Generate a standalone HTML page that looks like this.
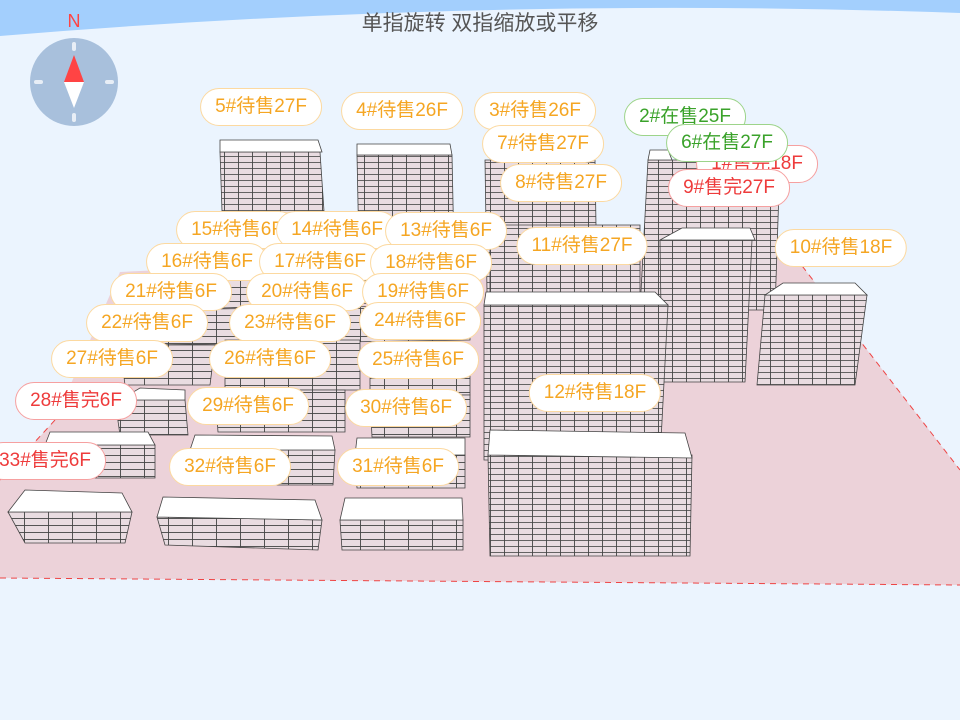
<!DOCTYPE html>
<html><head><meta charset="utf-8"><style>
html,body{margin:0;padding:0;}
body{width:960px;height:720px;position:relative;overflow:hidden;background:#ebf4fe;font-family:"Liberation Sans","Noto Sans CJK SC",sans-serif;}
.l{position:absolute;height:36px;line-height:36px;padding:0 14px;background:#fff;border:1px solid #fcd9a0;border-radius:19px;color:#f5a623;font-size:19px;white-space:nowrap;transform:translate(-50%,-50%);}
.g{border-color:#9dd48a;color:#3aa22a;}
.r{border-color:#f6a0a0;color:#ee3b3b;}
#t{position:absolute;left:0;width:960px;top:7px;text-align:center;font-size:21px;color:#555;}
</style></head><body>
<svg width="960" height="720" style="position:absolute;left:0;top:0">
<defs>
<pattern id="p" patternUnits="userSpaceOnUse" width="14" height="6">
<rect width="14" height="6" fill="#e9dce1"/>
<line x1="0" y1="0.5" x2="14" y2="0.5" stroke="#555" stroke-width="0.9"/>
<line x1="0.5" y1="0" x2="0.5" y2="6" stroke="#444" stroke-width="0.9"/>
</pattern>
<pattern id="q" patternUnits="userSpaceOnUse" width="24" height="7">
<rect width="24" height="7" fill="#e9dce1"/>
<line x1="0" y1="0.5" x2="24" y2="0.5" stroke="#555" stroke-width="0.9"/>
<line x1="0.5" y1="0" x2="0.5" y2="7" stroke="#444" stroke-width="0.9"/>
</pattern>
</defs>
<path d="M0,0 H960 V13 Q480,-4 0,36 Z" fill="#a3cffd"/>
<polygon points="120,272 782,240 960,470 960,585 0,578 0,480 55,420" fill="#ecd2d9"/>
<polyline points="782,240 960,470" fill="none" stroke="#e44" stroke-dasharray="6,5"/>
<polyline points="0,578 960,585" fill="none" stroke="#e44" stroke-dasharray="6,5"/>
<polyline points="55,420 0,480" fill="none" stroke="#e44" stroke-dasharray="6,5"/>
<g stroke="#444" stroke-width="0.8">
<polygon points="220,152 320,152 330,300 225,300" fill="url(#p)"/><polygon points="220,140 318,140 322,152 220,152" fill="#fff"/>
<polygon points="357,155 452,155 455,300 360,300" fill="url(#p)"/><polygon points="357,144 450,144 452,155 357,155" fill="#fff"/>
<polygon points="485,160 595,160 597,292 487,292" fill="url(#p)"/>
<polygon points="648,160 780,160 775,310 640,310" fill="url(#p)"/><polygon points="650,150 668,150 672,160 648,160" fill="#fff"/>
<polygon points="490,225 640,225 640,300 490,300" fill="url(#p)"/>
<polygon points="660,240 752,240 745,382 662,382" fill="url(#p)"/><polygon points="682,228 750,228 755,240 660,240" fill="#fff"/>
<polygon points="765,295 867,295 855,385 757,385" fill="url(#p)"/><polygon points="783,283 855,283 867,295 765,295" fill="#fff"/>
<polygon points="484,305 668,305 660,460 484,460" fill="url(#p)"/><polygon points="486,292 655,292 668,305 484,305" fill="#fff"/>
<polygon points="488,455 692,455 690,556 490,556" fill="url(#p)"/><polygon points="490,430 685,433 692,458 488,455" fill="#fff"/>
<polygon points="160,280 470,270 470,300 160,310" fill="url(#q)"/>
<polygon points="150,310 470,305 470,340 150,345" fill="url(#q)"/>
<polygon points="120,345 215,345 210,385 125,385" fill="url(#q)"/>
<polygon points="225,340 360,340 360,390 225,390" fill="url(#q)"/>
<polygon points="370,345 470,345 470,395 370,395" fill="url(#q)"/>
<polygon points="115,400 185,400 188,435 120,435" fill="url(#q)"/><polygon points="120,400 140,388 185,390 185,400" fill="#fff"/>
<polygon points="215,390 345,390 345,432 218,432" fill="url(#q)"/>
<polygon points="370,395 470,395 470,437 372,437" fill="url(#q)"/>
<polygon points="45,445 155,445 155,478 50,478" fill="url(#q)"/><polygon points="45,445 50,432 148,432 155,445" fill="#fff"/>
<polygon points="190,450 335,450 333,485 195,485" fill="url(#q)"/><polygon points="190,450 195,435 332,436 335,450" fill="#fff"/>
<polygon points="355,455 465,455 465,488 357,488" fill="url(#q)"/><polygon points="355,455 357,438 465,438 465,455" fill="#fff"/>
<polygon points="8,512 132,512 125,543 25,543" fill="url(#q)"/><polygon points="8,512 25,490 122,493 132,512" fill="#fff"/>
<polygon points="157,517 322,520 318,550 165,545" fill="url(#q)"/><polygon points="157,517 163,497 315,500 322,520" fill="#fff"/>
<polygon points="340,520 463,520 463,550 342,550" fill="url(#q)"/><polygon points="340,520 345,498 462,498 463,520" fill="#fff"/>
</g>
<circle cx="74" cy="82" r="44" fill="#a8c0dc"/>
<g stroke="#e8eef6" stroke-width="4" stroke-linecap="round"><line x1="74" y1="44" x2="74" y2="49"/><line x1="74" y1="115" x2="74" y2="120"/><line x1="36" y1="82" x2="41" y2="82"/><line x1="107" y1="82" x2="112" y2="82"/></g>
<polygon points="74,55 64,82 84,82" fill="#f44"/><polygon points="64,82 84,82 74,108" fill="#fff"/>
<text x="74" y="27" text-anchor="middle" font-size="18" fill="#f44" font-family="Liberation Sans">N</text>
</svg>
<div id="t">单指旋转 双指缩放或平移</div>
<div class="l" style="left:261px;top:107px">5#待售27F</div>
<div class="l" style="left:402px;top:111px">4#待售26F</div>
<div class="l" style="left:535px;top:111px">3#待售26F</div>
<div class="l g" style="left:685px;top:117px">2#在售25F</div>
<div class="l r" style="left:757px;top:164px">1#售完18F</div>
<div class="l" style="left:543px;top:144px">7#待售27F</div>
<div class="l g" style="left:727px;top:143px">6#在售27F</div>
<div class="l" style="left:561px;top:183px">8#待售27F</div>
<div class="l r" style="left:729px;top:188px">9#售完27F</div>
<div class="l" style="left:237px;top:230px">15#待售6F</div>
<div class="l" style="left:337px;top:230px">14#待售6F</div>
<div class="l" style="left:446px;top:231px">13#待售6F</div>
<div class="l" style="left:582px;top:246px">11#待售27F</div>
<div class="l" style="left:841px;top:248px">10#待售18F</div>
<div class="l" style="left:207px;top:262px">16#待售6F</div>
<div class="l" style="left:320px;top:262px">17#待售6F</div>
<div class="l" style="left:431px;top:263px">18#待售6F</div>
<div class="l" style="left:171px;top:292px">21#待售6F</div>
<div class="l" style="left:307px;top:292px">20#待售6F</div>
<div class="l" style="left:423px;top:292px">19#待售6F</div>
<div class="l" style="left:147px;top:323px">22#待售6F</div>
<div class="l" style="left:290px;top:323px">23#待售6F</div>
<div class="l" style="left:420px;top:321px">24#待售6F</div>
<div class="l" style="left:112px;top:359px">27#待售6F</div>
<div class="l" style="left:270px;top:359px">26#待售6F</div>
<div class="l" style="left:418px;top:360px">25#待售6F</div>
<div class="l r" style="left:76px;top:401px">28#售完6F</div>
<div class="l" style="left:248px;top:406px">29#待售6F</div>
<div class="l" style="left:406px;top:408px">30#待售6F</div>
<div class="l" style="left:595px;top:393px">12#待售18F</div>
<div class="l r" style="left:45px;top:461px">33#售完6F</div>
<div class="l" style="left:230px;top:467px">32#待售6F</div>
<div class="l" style="left:398px;top:467px">31#待售6F</div>
</body></html>
